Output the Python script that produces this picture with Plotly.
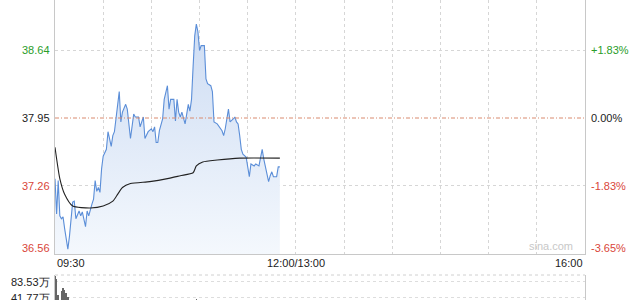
import plotly.graph_objects as go

# ---- data (minute index from 09:30; 0..330 for the trading day) ----
price_min = [0, 1, 2, 3, 4, 5, 6, 7, 8, 9, 11, 12, 13, 15, 16, 17, 19, 20, 21, 23, 24, 25, 26, 27, 28, 29, 30,
             32, 33, 35, 36, 37, 39, 40, 41, 42, 44, 45, 47, 49, 50, 52, 53, 55, 56, 57, 58, 60, 61, 62, 63, 64,
             65, 67, 68, 70, 71, 72, 73, 74, 75, 76, 77, 78, 79, 80, 81, 82, 83, 84, 85, 86, 87, 88, 89, 90, 91,
             93, 94, 95, 97, 98, 99, 101, 104, 105, 106, 108, 109, 111, 112, 113, 114, 115, 116, 117, 119, 121,
             122, 124, 125, 127, 129, 130, 132, 133, 134, 135, 136, 138, 139, 140]
price = [37.33, 36.97, 37.31, 36.95, 36.92, 36.94, 36.82, 36.71, 36.61, 36.74, 37.09, 37.10, 36.92, 37.00,
         36.95, 36.99, 36.84, 37.00, 36.95, 37.07, 37.12, 37.31, 37.20, 37.24, 37.19, 37.43, 37.56,
         37.63, 37.81, 37.66, 37.77, 37.81, 38.07, 38.22, 37.91, 38.01, 38.09, 38.04, 37.74, 37.99, 37.96,
         37.96, 37.86, 37.96, 37.74, 37.77, 37.81, 37.84, 37.81, 37.86, 37.70, 37.70,
         37.82, 37.94, 38.14, 38.28, 38.04, 38.14, 38.14, 38.14, 37.92, 38.14, 38.01, 37.96, 38.01, 37.96,
         37.89, 37.99, 38.09, 38.02, 38.14, 38.48, 38.79, 38.91, 38.83, 38.64, 38.69,
         38.69, 38.35, 38.30, 38.28, 38.22, 37.91, 37.89, 37.82, 37.77, 37.84, 38.04, 37.91, 37.94, 37.96,
         37.91, 37.89, 37.77, 37.63, 37.58, 37.55, 37.35,
         37.48, 37.46, 37.48, 37.46, 37.63, 37.53, 37.38, 37.30, 37.36, 37.40, 37.35, 37.35, 37.45, 37.45]

avg_min = [0, 3, 6, 11, 22, 30, 36, 39, 42, 47, 59, 70, 78, 86, 88, 92, 101, 115, 140]
avg_price = [37.65, 37.33, 37.17, 37.05, 37.03, 37.05, 37.10, 37.17, 37.24, 37.28, 37.30, 37.33, 37.36,
             37.39, 37.46, 37.50, 37.52, 37.54, 37.54]

vol_min = [0, 1, 2, 4, 5, 6, 7, 8, 88]
vol_wan = [100.0, 92.0, 50.0, 60.0, 68.0, 62.0, 55.0, 45.0, 40.0]   # 万 shares

prev_close = 37.95
left_ticks = [38.64, 37.95, 37.26, 36.56]
right_ticks = ["+1.83%", "0.00%", "-1.83%", "-3.65%"]
tick_colors = ["#2a9d2a", "#222222", "#d9463a", "#d9463a"]
vol_ticks = [83.53, 41.77]
vol_labels = ["83.53万", "41.77万"]
x_label_pos = [0, 150, 330]
x_labels = ["09:30", "12:00/13:00", "16:00"]

FONT = "Liberation Sans, Arial, sans-serif"
y_lo, y_hi = 36.56, 39.156

fig = go.Figure()

# baseline for the gradient fill
fig.add_trace(go.Scatter(x=price_min, y=[y_lo] * len(price_min), mode="lines",
                         line=dict(width=0, color="rgba(0,0,0,0)"), hoverinfo="skip",
                         showlegend=False, xaxis="x", yaxis="y"))
fig.add_trace(go.Scatter(x=price_min, y=price, mode="lines",
                         line=dict(color="#5b8ed8", width=1.1),
                         fill="tonexty",
                         fillgradient=dict(type="vertical",
                                           colorscale=[[0, "rgba(244,248,253,1)"],
                                                       [1, "rgba(205,220,243,1)"]]),
                         showlegend=False, xaxis="x", yaxis="y"))
fig.add_trace(go.Scatter(x=avg_min, y=avg_price, mode="lines",
                         line=dict(color="#222222", width=1.1, shape="spline", smoothing=0.6),
                         showlegend=False, xaxis="x", yaxis="y"))

fig.add_trace(go.Bar(x=vol_min, y=vol_wan, width=0.35, marker=dict(color="#666666", line=dict(width=0)),
                     showlegend=False, xaxis="x2", yaxis="y2"))

main_bottom = 46 / 300

fig.update_layout(
    width=640, height=300,
    margin=dict(l=55, r=55, t=0, b=0),
    paper_bgcolor="white", plot_bgcolor="white",
    font=dict(family=FONT, size=11, color="#222"),
    xaxis=dict(range=[0, 330], tickvals=list(range(0, 331, 30)), showticklabels=False,
               showgrid=True, gridcolor="#d6d6d6", griddash="dot", gridwidth=1,
               showline=True, linecolor="#c8c8c8", linewidth=1, zeroline=False,
               ticks="", anchor="y"),
    yaxis=dict(range=[y_lo, y_hi], domain=[main_bottom, 1], tickvals=[38.64, 37.26],
               showticklabels=False, showgrid=True, gridcolor="#d6d6d6", griddash="dot",
               showline=True, mirror=True, linecolor="#c8c8c8", linewidth=1, zeroline=False,
               ticks=""),
    xaxis2=dict(range=[0, 330], showticklabels=False, showgrid=False, showline=False,
                zeroline=False, anchor="y2"),
    yaxis2=dict(range=[36.5, 101.8], domain=[0, 25 / 300], tickvals=vol_ticks,
                showticklabels=False, showgrid=True, gridcolor="#dddddd", griddash="dot",
                showline=True, mirror=True, linecolor="#c8c8c8", zeroline=False, anchor="x2"),
    bargap=0,
)

# previous close dash-dot line
fig.add_shape(type="line", xref="x", yref="y", x0=0, x1=330, y0=prev_close, y1=prev_close,
              line=dict(color="#d98a6e", width=1, dash="4px,2px,1px,2px"))
# volume panel top border (dotted)
fig.add_shape(type="line", xref="paper", yref="paper", x0=0, x1=1, y0=25 / 300, y1=25 / 300,
              line=dict(color="#d0d0d0", width=1, dash="dot"))

# left / right axis labels
for i, (v, t, c) in enumerate(zip(left_ticks, right_ticks, tick_colors)):
    ys = 6 if i == len(left_ticks) - 1 else 0
    fig.add_annotation(x=0, xref="paper", y=v, yref="y", text=f"{v:.2f}", showarrow=False,
                       xanchor="right", xshift=-3, yshift=ys, font=dict(color=c, size=11, family=FONT))
    fig.add_annotation(x=1, xref="paper", y=v, yref="y", text=t, showarrow=False,
                       xanchor="left", xshift=4, yshift=ys, font=dict(color=c, size=11, family=FONT))

# x labels
anchors = ["left", "center", "right"]
for v, t, a in zip(x_label_pos, x_labels, anchors):
    fig.add_annotation(x=v, xref="x", y=main_bottom, yref="paper", yanchor="top", yshift=-1,
                       text=t, showarrow=False, xanchor=a, font=dict(color="#222", size=11, family=FONT))

# volume labels
for v, t in zip(vol_ticks, vol_labels):
    fig.add_annotation(x=0, xref="paper", y=v, yref="y2", text=t, showarrow=False,
                       xanchor="right", xshift=-3, font=dict(color="#222", size=11, family=FONT))

# watermark
fig.add_annotation(x=0.935, xref="paper", y=main_bottom, yref="paper", yanchor="bottom", yshift=0,
                   text="sina.com", showarrow=False, xanchor="center",
                   font=dict(color="#c8c8c8", size=11, family=FONT))

fig.write_html("out.html")
